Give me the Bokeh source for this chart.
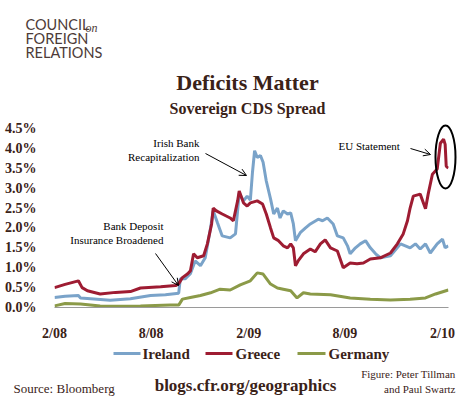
from datetime import datetime, timedelta
import pandas as pd
from bokeh.plotting import figure
from bokeh.core.properties import value
from bokeh.models import (Range1d, FixedTicker, CustomJSTickFormatter, PrintfTickFormatter,
                          Arrow, OpenHead)
from bokeh.embed import file_html
from bokeh.resources import INLINE

# ---------------- data ----------------
greece_dates = ["2008-02-01", "2008-02-21", "2008-03-17", "2008-03-24", "2008-04-03", "2008-04-27",
                "2008-05-26", "2008-06-23", "2008-07-12", "2008-08-19", "2008-09-16", "2008-09-22",
                "2008-09-29", "2008-10-09", "2008-10-14", "2008-10-20", "2008-10-27", "2008-11-08",
                "2008-11-15", "2008-11-23", "2008-11-26", "2008-12-02", "2008-12-13", "2008-12-28",
                "2009-01-03", "2009-01-11", "2009-01-14", "2009-01-22", "2009-01-29", "2009-02-04",
                "2009-02-17", "2009-02-27", "2009-03-06", "2009-03-14", "2009-03-20", "2009-03-29",
                "2009-04-07", "2009-04-15", "2009-04-21", "2009-04-26", "2009-04-30", "2009-05-05",
                "2009-05-15", "2009-05-28", "2009-06-06", "2009-06-16", "2009-06-25", "2009-07-05",
                "2009-07-18", "2009-07-29", "2009-08-11", "2009-08-24", "2009-09-05", "2009-09-18",
                "2009-10-07", "2009-10-26", "2009-11-08", "2009-11-19", "2009-11-27", "2009-12-02",
                "2009-12-08", "2009-12-21", "2009-12-31", "2010-01-05", "2010-01-13", "2010-01-22",
                "2010-01-28", "2010-02-03", "2010-02-06", "2010-02-08", "2010-02-12"]
greece = [0.50, 0.58, 0.67, 0.50, 0.42, 0.34,
          0.38, 0.40, 0.49, 0.52, 0.55, 0.60,
          0.75, 0.85, 0.92, 1.35, 1.25, 1.30,
          1.60, 2.10, 2.50, 2.43, 2.35, 2.25,
          2.18, 2.68, 2.93, 2.63, 2.55, 2.63,
          2.68, 2.60, 2.35, 2.00, 1.75, 1.68,
          1.55, 1.50, 1.60, 1.50, 1.05, 1.17,
          1.35, 1.47, 1.40, 1.60, 1.70, 1.50,
          1.42, 1.00, 1.12, 1.10, 1.12, 1.22,
          1.25, 1.37, 1.60, 1.85, 2.18, 2.50,
          2.80, 2.85, 2.48, 2.85, 3.35, 3.48,
          4.13, 4.23, 4.10, 3.55, 3.50]

ireland_dates = ["2008-02-01", "2008-02-21", "2008-03-17", "2008-03-21", "2008-04-09", "2008-05-16",
                 "2008-06-23", "2008-07-31", "2008-08-28", "2008-09-22", "2008-09-25", "2008-10-04",
                 "2008-10-14", "2008-10-23", "2008-11-02", "2008-11-11", "2008-11-21", "2008-11-26",
                 "2008-12-04", "2008-12-13", "2008-12-28", "2009-01-07", "2009-01-14", "2009-01-22",
                 "2009-01-29", "2009-02-04", "2009-02-08", "2009-02-12", "2009-02-17", "2009-02-23",
                 "2009-02-28", "2009-03-06", "2009-03-14", "2009-03-20", "2009-03-27", "2009-04-01",
                 "2009-04-07", "2009-04-15", "2009-04-21", "2009-04-26", "2009-04-30", "2009-05-09",
                 "2009-05-19", "2009-05-28", "2009-06-12", "2009-06-20", "2009-06-29", "2009-07-10",
                 "2009-07-18", "2009-07-29", "2009-08-06", "2009-08-11", "2009-08-21", "2009-08-30",
                 "2009-09-09", "2009-09-18", "2009-09-28", "2009-10-07", "2009-10-26", "2009-11-14",
                 "2009-11-23", "2009-12-02", "2009-12-12", "2009-12-21", "2009-12-31", "2010-01-09",
                 "2010-01-22", "2010-02-01", "2010-02-06", "2010-02-12"]
ireland = [0.25, 0.28, 0.30, 0.24, 0.22, 0.18,
           0.22, 0.30, 0.32, 0.36, 0.72, 0.72,
           0.85, 1.17, 1.05, 1.25, 2.00, 2.43,
           2.13, 1.80, 1.75, 1.85, 2.88, 2.68,
           2.80, 2.70, 3.40, 3.94, 3.77, 3.82,
           3.65, 3.18, 2.73, 2.35, 2.50, 2.25,
           2.43, 2.35, 2.38, 2.10, 1.68, 1.88,
           2.00, 2.10, 2.22, 2.18, 2.25, 2.10,
           1.80, 1.75, 1.55, 1.35, 1.50, 1.60,
           1.68, 1.50, 1.35, 1.25, 1.30, 1.60,
           1.55, 1.50, 1.60, 1.47, 1.60, 1.37,
           1.60, 1.72, 1.50, 1.55]

germany_dates = ["2008-02-01", "2008-02-21", "2008-03-21", "2008-04-27", "2008-06-04", "2008-07-12",
                 "2008-09-06", "2008-09-22", "2008-09-29", "2008-10-14", "2008-11-02", "2008-11-21",
                 "2008-12-09", "2008-12-28", "2009-01-16", "2009-02-04", "2009-02-17", "2009-02-28",
                 "2009-03-14", "2009-03-27", "2009-04-07", "2009-04-21", "2009-05-03", "2009-05-15",
                 "2009-05-28", "2009-07-05", "2009-08-11", "2009-09-18", "2009-10-26", "2009-12-02",
                 "2009-12-31", "2010-01-19", "2010-02-12"]
germany = [0.04, 0.10, 0.09, 0.04, 0.03, 0.04,
           0.06, 0.06, 0.21, 0.25, 0.30, 0.37,
           0.46, 0.44, 0.57, 0.67, 0.87, 0.84,
           0.59, 0.49, 0.46, 0.42, 0.24, 0.37,
           0.34, 0.32, 0.24, 0.21, 0.19, 0.21,
           0.24, 0.34, 0.44]

y_ticks = [0.0, 0.5, 1.0, 1.5, 2.0, 2.5, 3.0, 3.5, 4.0, 4.5]
x_tick_dates = ["2008-02-01", "2008-08-01", "2009-02-01", "2009-08-01", "2010-02-01"]
series_names = ["Ireland", "Greece", "Germany"]

# ---------------- styling ----------------
BLUE = "#7aa3c9"
RED = "#9e1c32"
OLIVE = "#8b9a48"
BROWN = "#3a2218"
SERIF = "Liberation Serif"
colors = [BLUE, RED, OLIVE]

W, H = 470, 400
FL, FR, FT, FB = 54, 448, 124, 307          # frame edges in canvas pixels
T0 = datetime(2008, 2, 1)
DPP = 731 / 388.0                             # days per pixel (2/08 at x=54, 2/10 at x=442)
Y_END = 4.6
PPU = (FB - FT) / Y_END                       # pixels per percentage point


def X(px):
    return T0 + timedelta(days=(px - 54) * DPP)


def Y(py):
    return (FB - py) / PPU


p = figure(width=W, height=H, frame_width=FR - FL, frame_height=FB - FT,
           output_backend="svg", toolbar_location=None,
           x_axis_type="datetime",
           x_range=Range1d(X(FL), X(FR)), y_range=Range1d(0, Y_END),
           min_border_left=FL, min_border_right=W - FR,
           min_border_top=FT, min_border_bottom=H - FB,
           background_fill_color="white", border_fill_color="white")
p.outline_line_color = None
p.grid.visible = False

# axes
p.yaxis.ticker = FixedTicker(ticks=y_ticks)
p.yaxis.formatter = PrintfTickFormatter(format="%.1f%%")
p.yaxis.axis_line_color = None
p.yaxis.major_tick_line_color = None
p.yaxis.minor_tick_line_color = None
p.yaxis.major_label_text_font = SERIF
p.yaxis.major_label_text_font_style = "bold"
p.yaxis.major_label_text_font_size = "14px"
p.yaxis.major_label_text_color = BROWN
p.yaxis.major_label_standoff = 12

xt = [pd.Timestamp(d).value / 1e6 for d in x_tick_dates]
p.xaxis.ticker = FixedTicker(ticks=xt)
p.xaxis.formatter = CustomJSTickFormatter(code="""
    const d = new Date(tick);
    return (d.getUTCMonth() + 1) + '/' + String(d.getUTCFullYear()).slice(2);
""")
p.xaxis.axis_line_color = "#9a9a9a"
p.xaxis.axis_line_width = 1.2
p.xaxis.major_tick_line_color = None
p.xaxis.minor_tick_line_color = None
p.xaxis.major_label_text_font = SERIF
p.xaxis.major_label_text_font_style = "bold"
p.xaxis.major_label_text_font_size = "14px"
p.xaxis.major_label_text_color = BROWN
p.xaxis.major_label_standoff = 12

# lines
p.line(pd.to_datetime(ireland_dates), ireland, line_color=BLUE, line_width=3)
p.line(pd.to_datetime(greece_dates), greece, line_color=RED, line_width=3)
p.line(pd.to_datetime(germany_dates), germany, line_color=OLIVE, line_width=3)

# ellipse around the Greek peak
ell = p.ellipse(x=[X(445)], y=[Y(156.5)], width=20, height=63,
                width_units="screen", height_units="screen",
                fill_color=None, line_color="black", line_width=2)
ell.level = "overlay"


def label(px, py, text, size, style="normal", align="left", color=BROWN, font=SERIF):
    r = p.text(x=[X(px)], y=[Y(py)], text=[text], text_font=value(font), text_font_size=size,
               text_font_style=style, text_align=align, text_baseline="middle",
               text_color=color)
    r.level = "overlay"


# legend (drawn below the frame)
for (sx0, sx1, tx), name, c in zip([(113, 140, 142), (205, 232, 235), (297, 325, 328)],
                                   series_names, colors):
    seg = p.segment(x0=[X(sx0)], y0=[Y(353)], x1=[X(sx1)], y1=[Y(353)],
                    line_color=c, line_width=3)
    seg.level = "overlay"
    label(tx, 353, name, "15px", style="bold")

# header
label(25, 24, "COUNCIL", "14.5px", color="#4d3b38", font="Lato")
label(85, 27, "on", "12px", style="italic", color="#4d3b38")
label(25, 38, "FOREIGN", "14.5px", color="#4d3b38", font="Lato")
label(25, 52, "RELATIONS", "14.5px", color="#4d3b38", font="Lato")
label(247, 82, "Deficits Matter", "22px", style="bold", align="center")
label(247, 108, "Sovereign CDS Spread", "16px", style="bold", align="center")

# annotations
label(199, 142, "Irish Bank", "11px", align="right", color="black")
label(199, 156, "Recapitalization", "11px", align="right", color="black")
label(163, 225, "Bank Deposit", "11px", align="right", color="black")
label(163, 239, "Insurance Broadened", "11px", align="right", color="black")
label(338, 145, "EU Statement", "11px", color="black")

for (x0, y0, x1, y1) in [(205, 153, 246, 175), (155, 253, 178, 285), (410, 148, 430, 154)]:
    p.add_layout(Arrow(x_start=X(x0), y_start=Y(y0), x_end=X(x1), y_end=Y(y1),
                       line_color="black", line_width=1,
                       end=OpenHead(size=7, line_color="black", line_width=1)))

# footer
label(13, 388, "Source: Bloomberg", "13px")
label(245, 385, "blogs.cfr.org/geographics", "17px", style="bold", align="center")
label(455, 373, "Figure: Peter Tillman", "11px", align="right")
label(455, 388, "and Paul Swartz", "11px", align="right")

open("out.html", "w").write(file_html(p, INLINE))
